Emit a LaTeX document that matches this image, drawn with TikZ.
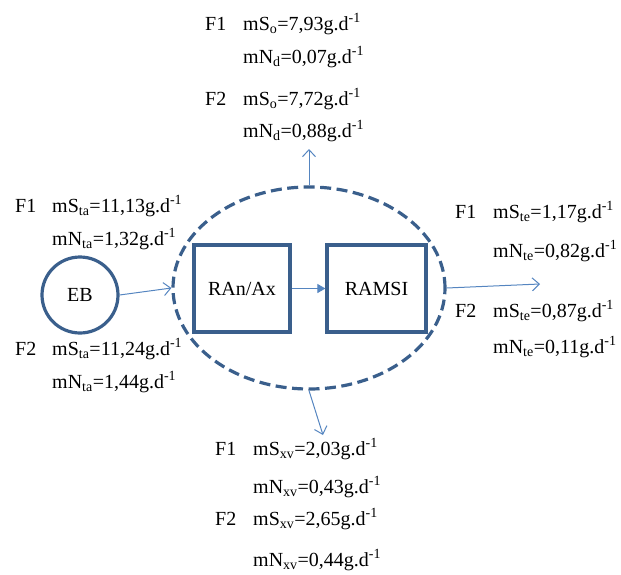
\documentclass[tikz,border=0pt]{standalone}
\usepackage{fontspec}
\setmainfont{Liberation Serif}
\usetikzlibrary{arrows.meta,shapes.geometric}
\definecolor{boxblue}{HTML}{3A5F8C}
\definecolor{arrblue}{HTML}{5585C0}
\newcommand{\gd}{g.d\textsuperscript{-1}}
\begin{document}
\begin{tikzpicture}[x=1pt,y=-1pt,
  every node/.style={font=\fontsize{20}{24}\selectfont},
  lbl/.style={anchor=base west,inner sep=0pt},
  unit/.style={draw=boxblue,line width=3.2pt,minimum width=96pt,minimum height=87pt,inner sep=0pt},
  flow/.style={draw=arrblue,line width=1pt,-{Straight Barb[length=7pt,width=13pt]}},
  innerflow/.style={draw=arrblue,line width=1pt,-{Triangle[length=8pt,width=9pt]}}]
\useasboundingbox (0,0) rectangle (621,574);
% reactor envelope
\node[ellipse,draw=boxblue,line width=3.2pt,dash pattern=on 11pt off 5.5pt,minimum width=272pt,minimum height=202pt,inner sep=0pt] (reactor) at (309,288) {};
\node[unit] (ran) at (242,288.5) {RAn/Ax};
\node[unit,minimum width=99pt] (ramsi) at (376.5,288.5) {RAMSI};
\node[circle,draw=boxblue,line width=3.2pt,minimum size=76pt,inner sep=0pt] (eb) at (80,295) {EB};
% free ends
\coordinate (upend) at (309,149);
\coordinate (rightend) at (540,284);
\coordinate (downend) at (323,435);
% connectors
\draw[flow] (eb.east) -- (reactor.west);
\draw[innerflow] (ran.east) -- (ramsi.west);
\draw[flow] (reactor.north) -- (upend);
\draw[flow] (reactor.east) -- (rightend);
\draw[flow] (reactor.south) -- (downend);
% top labels
\node[lbl] (tf1) at (205,30) {F1};
\node[lbl] (ta1) at (243,30) {mS\textsubscript{o}=7,93\gd};
\node[lbl] (tb1) at (243,63) {mN\textsubscript{d}=0,07\gd};
\node[lbl] (tf2) at (205,105) {F2};
\node[lbl] (ta2) at (243,105) {mS\textsubscript{o}=7,72\gd};
\node[lbl] (tb2) at (243,137) {mN\textsubscript{d}=0,88\gd};
% left labels
\node[lbl] (lf1) at (15,212) {F1};
\node[lbl] (la1) at (52,212) {mS\textsubscript{ta}=11,13\gd};
\node[lbl] (lb1) at (52,245) {mN\textsubscript{ta}=1,32\gd};
\node[lbl] (lf2) at (15,355) {F2};
\node[lbl] (la2) at (52,355) {mS\textsubscript{ta}=11,24\gd};
\node[lbl] (lb2) at (52,388) {mN\textsubscript{ta}=1,44\gd};
% right labels
\node[lbl] (rf1) at (455,218) {F1};
\node[lbl] (ra1) at (493,218) {mS\textsubscript{te}=1,17\gd};
\node[lbl] (rb1) at (493,257) {mN\textsubscript{te}=0,82\gd};
\node[lbl] (rf2) at (455,317) {F2};
\node[lbl] (ra2) at (493,317) {mS\textsubscript{te}=0,87\gd};
\node[lbl] (rb2) at (493,353) {mN\textsubscript{te}=0,11\gd};
% bottom labels
\node[lbl] (bf1) at (215,455) {F1};
\node[lbl] (ba1) at (253,455) {mS\textsubscript{xv}=2,03\gd};
\node[lbl] (bb1) at (253,493) {mN\textsubscript{xv}=0,43\gd};
\node[lbl] (bf2) at (215,525) {F2};
\node[lbl] (ba2) at (253,525) {mS\textsubscript{xv}=2,65\gd};
\node[lbl] (bb2) at (253,566) {mN\textsubscript{xv}=0,44\gd};
\end{tikzpicture}
\end{document}
